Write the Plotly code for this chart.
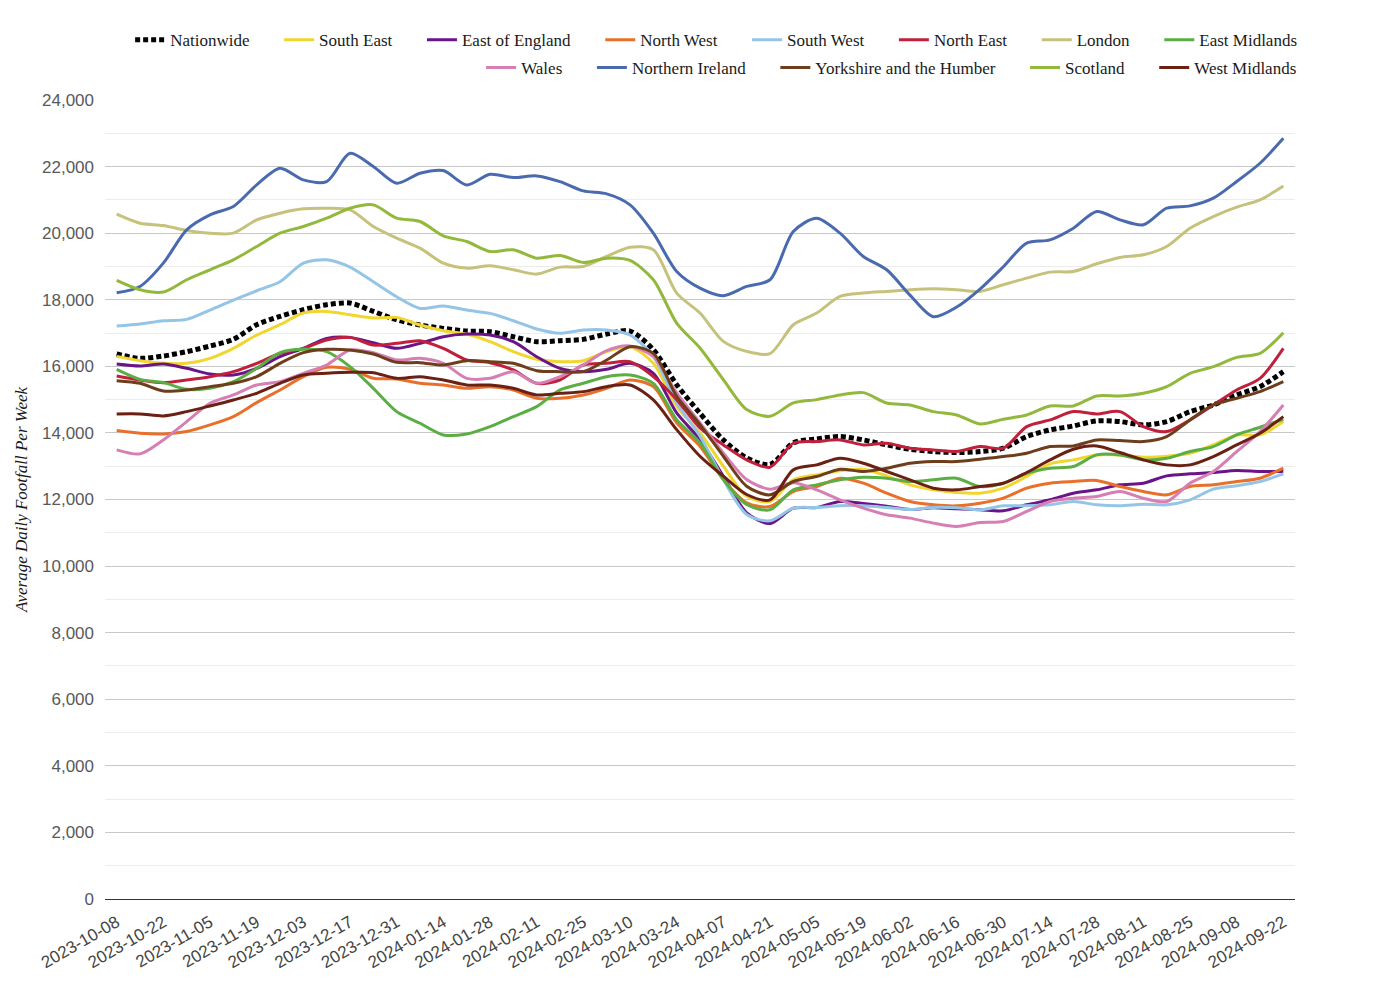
import pandas as pd
import plotly.graph_objects as go

# weekly categories (every other one gets a tick label)
weeks = pd.date_range("2023-10-08", periods=51, freq="7D").strftime("%Y-%m-%d").tolist()

nationwide = [16370, 16240, 16310, 16440, 16610, 16810, 17250, 17500, 17700, 17850, 17900, 17650, 17400,
              17240, 17140, 17060, 17040, 16890, 16740, 16770, 16810, 16970, 17060, 16500, 15450, 14590,
              13790, 13250, 13050, 13700, 13820, 13890, 13790, 13640, 13510, 13440, 13410, 13440, 13540,
              13890, 14090, 14210, 14360, 14340, 14240, 14340, 14640, 14840, 15140, 15390, 15840]
south_east = [16300, 16170, 16090, 16090, 16240, 16540, 16940, 17250, 17600, 17650, 17550, 17450, 17470,
              17240, 17070, 16970, 16740, 16440, 16210, 16140, 16170, 16440, 16590, 16090, 14800, 14000,
              13000, 12100, 11940, 12590, 12740, 12860, 12910, 12710, 12440, 12290, 12210, 12190, 12340,
              12690, 13070, 13190, 13340, 13340, 13270, 13300, 13390, 13640, 13940, 13940, 14340]
east_of_england = [16070, 16010, 16070, 15940, 15770, 15740, 15940, 16290, 16540, 16840, 16870, 16710, 16540,
                   16690, 16890, 16970, 16940, 16740, 16290, 15940, 15840, 15910, 16090, 15790, 14600, 13800,
                   12700, 11600, 11280, 11740, 11760, 11940, 11880, 11800, 11700, 11750, 11720, 11690, 11660,
                   11840, 11990, 12190, 12290, 12440, 12490, 12710, 12770, 12810, 12870, 12840, 12840]
north_west = [14070, 13990, 13970, 14040, 14240, 14490, 14910, 15290, 15690, 15970, 15910, 15640, 15620,
              15490, 15440, 15340, 15390, 15290, 15040, 15040, 15140, 15340, 15590, 15390, 14300, 13600,
              12600, 11900, 11790, 12240, 12390, 12640, 12490, 12190, 11940, 11840, 11810, 11890, 12040,
              12340, 12490, 12540, 12570, 12390, 12240, 12140, 12390, 12440, 12540, 12640, 12940]
south_west = [17210, 17270, 17370, 17410, 17690, 17990, 18270, 18540, 19100, 19200, 18980, 18540, 18090,
              17740, 17810, 17690, 17590, 17370, 17120, 16990, 17090, 17090, 16940, 16300, 14900, 13900,
              12600, 11550, 11360, 11740, 11760, 11810, 11810, 11760, 11700, 11760, 11750, 11690, 11810,
              11810, 11840, 11940, 11840, 11810, 11860, 11840, 11990, 12310, 12410, 12540, 12770]
north_east = [15710, 15590, 15510, 15590, 15690, 15840, 16090, 16390, 16540, 16790, 16870, 16640, 16690,
              16770, 16540, 16190, 16110, 15890, 15490, 15590, 16040, 16090, 16140, 15690, 15000, 14150,
              13640, 13190, 12970, 13690, 13740, 13790, 13640, 13690, 13540, 13490, 13440, 13590, 13540,
              14190, 14390, 14640, 14570, 14640, 14190, 14040, 14390, 14840, 15290, 15640, 16540]
london = [20570, 20300, 20230, 20080, 20000, 20000, 20400, 20600, 20730, 20750, 20700, 20200, 19850,
          19550, 19100, 18950, 19020, 18900, 18770, 18980, 19000, 19300, 19580, 19500, 18200, 17600,
          16750, 16450, 16380, 17250, 17600, 18100, 18200, 18250, 18300, 18330, 18300, 18250, 18450,
          18650, 18830, 18850, 19080, 19270, 19350, 19600, 20150, 20500, 20780, 21000, 21420]
east_midlands = [15910, 15610, 15510, 15310, 15340, 15540, 15940, 16410, 16510, 16440, 15990, 15340, 14640,
                 14290, 13940, 13970, 14190, 14490, 14790, 15290, 15490, 15690, 15740, 15490, 14400, 13700,
                 12600, 11850, 11690, 12290, 12440, 12590, 12670, 12640, 12540, 12590, 12640, 12390, 12490,
                 12790, 12940, 12990, 13340, 13340, 13190, 13240, 13440, 13590, 13940, 14170, 14410]
wales = [13490, 13370, 13790, 14340, 14890, 15140, 15440, 15540, 15790, 16040, 16490, 16410, 16190,
         16240, 16090, 15640, 15640, 15840, 15490, 15690, 16040, 16470, 16610, 16290, 15200, 14300,
         13400, 12600, 12310, 12500, 12290, 11990, 11740, 11540, 11440, 11290, 11190, 11310, 11340,
         11640, 11940, 12040, 12090, 12240, 12040, 11940, 12490, 12840, 13440, 14040, 14840]
northern_ireland = [18210, 18400, 19100, 20100, 20550, 20800, 21450, 21950, 21600, 21550, 22400, 22000, 21500,
                    21800, 21880, 21450, 21770, 21670, 21720, 21550, 21270, 21180, 20850, 20000, 18850, 18350,
                    18120, 18400, 18600, 20050, 20450, 20000, 19300, 18900, 18140, 17490, 17780, 18320, 18990,
                    19700, 19800, 20150, 20650, 20400, 20250, 20750, 20820, 21050, 21550, 22100, 22850]
yorkshire = [15570, 15490, 15260, 15290, 15390, 15490, 15690, 16090, 16410, 16510, 16490, 16370, 16120,
             16110, 16040, 16170, 16140, 16090, 15870, 15840, 15840, 16190, 16590, 16390, 15100, 14250,
             13300, 12400, 12140, 12540, 12690, 12910, 12840, 12940, 13090, 13140, 13140, 13210, 13290,
             13390, 13590, 13610, 13790, 13770, 13740, 13890, 14390, 14840, 15040, 15240, 15540]
scotland = [18580, 18300, 18230, 18600, 18900, 19200, 19600, 20000, 20200, 20450, 20750, 20850, 20450,
            20350, 19920, 19750, 19450, 19500, 19250, 19330, 19120, 19250, 19180, 18600, 17300, 16550,
            15600, 14700, 14500, 14900, 15000, 15140, 15210, 14900, 14840, 14640, 14540, 14270, 14410,
            14540, 14810, 14810, 15110, 15110, 15190, 15390, 15790, 15990, 16270, 16390, 17010]
west_midlands = [14570, 14570, 14510, 14640, 14810, 14990, 15190, 15490, 15740, 15790, 15820, 15810, 15640,
                 15690, 15590, 15440, 15440, 15340, 15140, 15190, 15240, 15390, 15440, 14990, 14100, 13300,
                 12700, 12150, 11990, 12890, 13040, 13240, 13090, 12840, 12590, 12340, 12290, 12390, 12490,
                 12810, 13190, 13510, 13610, 13410, 13190, 13040, 13040, 13290, 13640, 13990, 14490]

row1 = [("Nationwide", nationwide, "#000000"),
        ("South East", south_east, "#f0d62e"),
        ("East of England", east_of_england, "#6a1488"),
        ("North West", north_west, "#e8702a"),
        ("South West", south_west, "#94c5e6"),
        ("North East", north_east, "#c0203c"),
        ("London", london, "#c6c27c"),
        ("East Midlands", east_midlands, "#5aae44")]
row2 = [("Wales", wales, "#d57fb4"),
        ("Northern Ireland", northern_ireland, "#4a6aaf"),
        ("Yorkshire and the Humber", yorkshire, "#6e3d1b"),
        ("Scotland", scotland, "#92b83c"),
        ("West Midlands", west_midlands, "#6b2014")]

pad = "\u00a0" * 5 + "\u2009"  # widen the gap between legend entries

fig = go.Figure()
for legend_id, row in (("legend", row1), ("legend2", row2)):
    for k, (name, vals, col) in enumerate(row):
        label = name if k == len(row) - 1 else name + pad
        if name == "Nationwide":
            line = dict(color=col, width=5, dash="5px,3px", shape="spline", smoothing=0.8)
        else:
            line = dict(color=col, width=3, shape="spline", smoothing=0.8)
        fig.add_trace(go.Scatter(x=weeks, y=vals, name=label, mode="lines", line=line,
                                 legend=legend_id))

legend_style = dict(orientation="h", xref="paper", x=1.006, xanchor="right",
                    yref="paper", yanchor="middle", bgcolor="rgba(0,0,0,0)",
                    font=dict(family="Liberation Serif", size=17, color="#1a1a1a"))

# page body adds an 8px margin, so the margins are pulled in by 8px
fig.update_layout(
    width=1400, height=1000,
    paper_bgcolor="white", plot_bgcolor="white",
    margin=dict(l=97, r=113, t=92, b=109, autoexpand=False),
    showlegend=True,
    legend=dict(legend_style, y=1.075),
    legend2=dict(legend_style, y=1.040),
    xaxis=dict(type="category", range=[-0.5, 50.5], tickmode="array", tickvals=weeks[::2],
               tickangle=-30, tickfont=dict(family="Liberation Sans", size=17, color="#444444"),
               showgrid=False, showline=True, linecolor="#333333", linewidth=1,
               ticks="", ticklabelstandoff=6),
    yaxis=dict(range=[0, 24000], dtick=2000, tickformat=",d",
               tickfont=dict(family="Liberation Sans", size=17, color="#595959"),
               gridcolor="#c8c8c8", gridwidth=1, zeroline=False, showline=False,
               ticks="", ticklabelstandoff=10,
               minor=dict(dtick=1000, showgrid=True, gridcolor="#ececec", gridwidth=1),
               title=dict(text="Average Daily Footfall Per Week", standoff=10,
                          font=dict(family="Liberation Serif", size=17, color="#1a1a1a",
                                    style="italic"))),
)

fig.write_html("out.html")
